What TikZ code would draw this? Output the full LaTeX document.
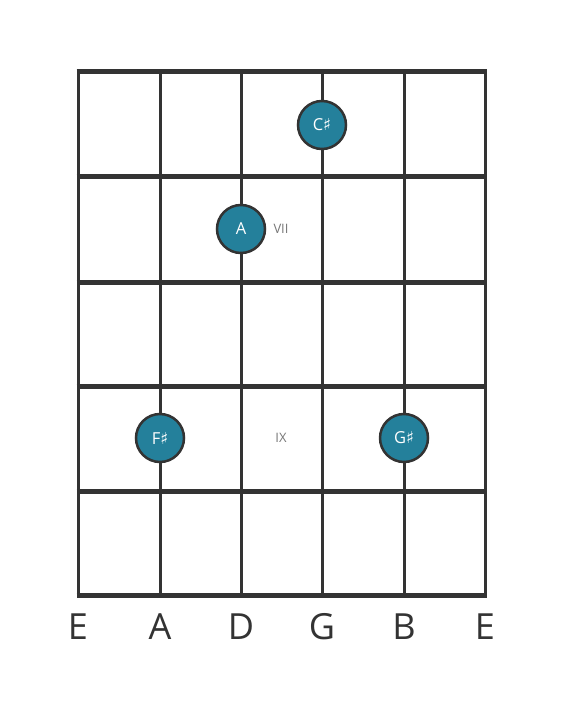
\documentclass[tikz,border=0pt]{standalone}
\usepackage{fontspec}
\setmainfont{Open Sans}
\newfontfamily\symfont{DejaVu Sans}
\newcommand{\shp}{{\symfont\char"266F}}
\definecolor{gridgray}{RGB}{51,51,51}
\definecolor{dotteal}{RGB}{36,128,155}
\definecolor{labgray}{RGB}{120,120,120}
\begin{document}
\begin{tikzpicture}[
    x=1pt, y=-1pt,
    fret/.style={draw=gridgray, line width=5pt},
    gstring/.style={draw=gridgray, line width=3pt},
    note/.style={circle, fill=dotteal, draw=gridgray, line width=2.5pt, minimum size=48pt, inner sep=0pt, text=white, font=\fontsize{16.5}{18}\selectfont},
    fretlabel/.style={text=labgray, font=\fontsize{13}{15}\selectfont},
    stringname/.style={text=gridgray, font=\fontsize{36}{40}\selectfont},
]

% Rahmen
\useasboundingbox (0,0) rectangle (566,711);
\fill[white] (0,0) rectangle (566,711);

% Saiten
\foreach \x in {78,160,241,322,404,485}
    \draw[gstring] (\x,72) -- (\x,595);

% Bünde
\foreach \y in {72,177,282,386,491,595}
    \draw[fret] (76.5,\y) -- (486.5,\y);

% Lagen
\node[fretlabel] (pos7) at (281,229) {VII};
\node[fretlabel] (pos9) at (281,438) {IX};

% Töne
\node[note] (cis) at (322,125) {C\shp};
\node[note] (a) at (241,229) {A};
\node[note] (fis) at (160,438) {F\shp};
\node[note] (gis) at (404,438) {G\shp};

% Saitennamen
\node[stringname] (s1) at (78,627) {E};
\node[stringname] (s2) at (160,627) {A};
\node[stringname] (s3) at (241,627) {D};
\node[stringname] (s4) at (322,627) {G};
\node[stringname] (s5) at (404,627) {B};
\node[stringname] (s6) at (485,627) {E};

\end{tikzpicture}
\end{document}
